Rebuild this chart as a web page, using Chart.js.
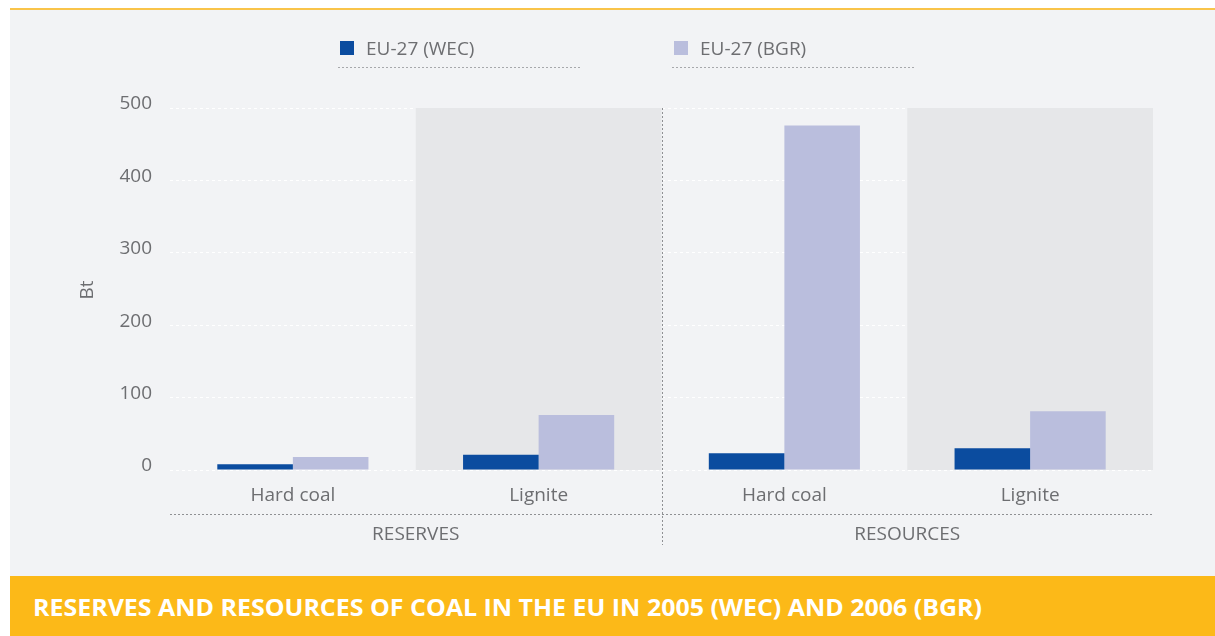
<!DOCTYPE html>
<html>
<head>
<meta charset="utf-8">
<script src="https://cdn.jsdelivr.net/npm/chart.js@4.4.1/dist/chart.umd.min.js"></script>
<style>
  body { margin: 0; background: #ffffff; width: 1215px; height: 636px; overflow: hidden; position: relative; }
  #topline { position: absolute; left: 10px; top: 8px; width: 1205px; height: 2px; background: #f9c44a; }
  #panel { position: absolute; left: 10px; top: 10px; width: 1205px; height: 566px; background: #f2f3f5; }
  #titlebar { position: absolute; left: 10px; top: 576px; width: 1205px; height: 60px; background: #fcb918; }
  #titletext { position: absolute; left: 23px; top: 17px; color: #ffffff; font-family: "Open Sans", sans-serif;
               font-weight: bold; font-size: 24px; white-space: nowrap; transform-origin: 0 0; line-height: 28px; }
</style>
</head>
<body>
<div id="topline"></div>
<div id="panel"><canvas id="coal_chart" width="1205" height="566"></canvas></div>
<div id="titlebar"><div id="titletext">RESERVES AND RESOURCES OF COAL IN THE EU IN 2005 (WEC) AND 2006 (BGR)</div></div>
<script>
const categories = ['Hard coal', 'Lignite', 'Hard coal', 'Lignite'];
const groups = ['RESERVES', 'RESOURCES'];
const series_names = ['EU-27 (WEC)', 'EU-27 (BGR)'];
const wec_values = [8, 21, 23, 30];
const bgr_values = [18, 76, 476, 81];
const y_ticks = [0, 100, 200, 300, 400, 500];

const TEXT_COLOR = '#6d6e71';
const FONT = '"Open Sans", sans-serif';
const colors = ['#0b4c9f', '#babedd'];

// stretch the title to the width it has in the picture
var title = document.getElementById('titletext');
var title_width = title.getBoundingClientRect().width;
title.style.transform = 'scaleX(' + (949 / title_width) + ')';

function dotted_line(ctx, x1, y1, x2, y2, color) {
    ctx.save();
    ctx.strokeStyle = color;
    ctx.lineWidth = 1;
    ctx.setLineDash([2, 2]);
    ctx.beginPath();
    ctx.moveTo(x1, y1);
    ctx.lineTo(x2, y2);
    ctx.stroke();
    ctx.restore();
}

var extras_plugin = {
    id: 'extras',
    beforeDatasetsDraw: function(chart) {
        var ctx = chart.ctx;
        var x = chart.scales.x;
        var area = chart.chartArea;
        var step = x.getPixelForValue(1) - x.getPixelForValue(0);
        ctx.save();
        ctx.fillStyle = '#e6e7e9';
        for (var i = 1; i < categories.length; i += 2) {
            var left = x.getPixelForValue(i) - step / 2;
            ctx.fillRect(left, area.top, step, area.bottom - area.top);
        }
        ctx.restore();
    },
    afterDraw: function(chart) {
        var ctx = chart.ctx;
        var x = chart.scales.x;
        var area = chart.chartArea;
        var step = x.getPixelForValue(1) - x.getPixelForValue(0);

        // group separator and underline
        var mid = x.getPixelForValue(1) + step / 2;
        dotted_line(ctx, Math.round(mid) + 0.5, area.top, Math.round(mid) + 0.5, 535, '#8f9093');
        dotted_line(ctx, area.left, 504.5, area.right, 504.5, '#8f9093');

        ctx.save();
        ctx.fillStyle = TEXT_COLOR;
        ctx.font = '19px ' + FONT;
        ctx.textAlign = 'center';
        ctx.textBaseline = 'middle';
        for (var g = 0; g < groups.length; g++) {
            var cx = (x.getPixelForValue(g * 2) + x.getPixelForValue(g * 2 + 1)) / 2;
            ctx.fillText(groups[g], cx, 525);
        }

        // axis title
        ctx.save();
        ctx.translate(78, 280);
        ctx.rotate(-Math.PI / 2);
        ctx.fillText('Bt', 0, 0);
        ctx.restore();

        // legend
        var legend_x = [330, 664];
        ctx.textAlign = 'left';
        for (var s = 0; s < series_names.length; s++) {
            ctx.fillStyle = colors[s];
            ctx.fillRect(legend_x[s], 31, 14, 14);
            ctx.fillStyle = TEXT_COLOR;
            ctx.fillText(series_names[s], legend_x[s] + 26, 40);
            dotted_line(ctx, legend_x[s] - 2, 57.5, legend_x[s] + 241, 57.5, '#a7a8ab');
        }
        ctx.restore();
    }
};

new Chart(document.getElementById('coal_chart'), {
    type: 'bar',
    data: {
        labels: categories,
        datasets: [{
            label: series_names[0],
            data: wec_values,
            backgroundColor: colors[0]
        }, {
            label: series_names[1],
            data: bgr_values,
            backgroundColor: colors[1]
        }]
    },
    options: {
        responsive: false,
        animation: false,
        categoryPercentage: 0.615,
        barPercentage: 1,
        layout: { padding: { top: 98, right: 62, bottom: 0, left: 0 } },
        plugins: {
            legend: { display: false },
            tooltip: { enabled: false }
        },
        scales: {
            x: {
                grid: { display: false },
                border: { display: false },
                ticks: { color: TEXT_COLOR, font: { family: FONT, size: 19 }, padding: 6 },
                afterFit: function(scale) { scale.height = 106; }
            },
            y: {
                min: 0,
                max: 500,
                z: 1,
                afterBuildTicks: function(scale) {
                    scale.ticks = y_ticks.map(function(v) { return { value: v }; });
                },
                grid: { color: '#ffffff', lineWidth: 1, drawTicks: false },
                border: { display: false, dash: [3, 3] },
                ticks: { color: TEXT_COLOR, font: { family: FONT, size: 19 }, padding: 18, labelOffset: -4 },
                afterFit: function(scale) { scale.width = 160; }
            }
        }
    },
    plugins: [extras_plugin]
});
</script>
</body>
</html>
